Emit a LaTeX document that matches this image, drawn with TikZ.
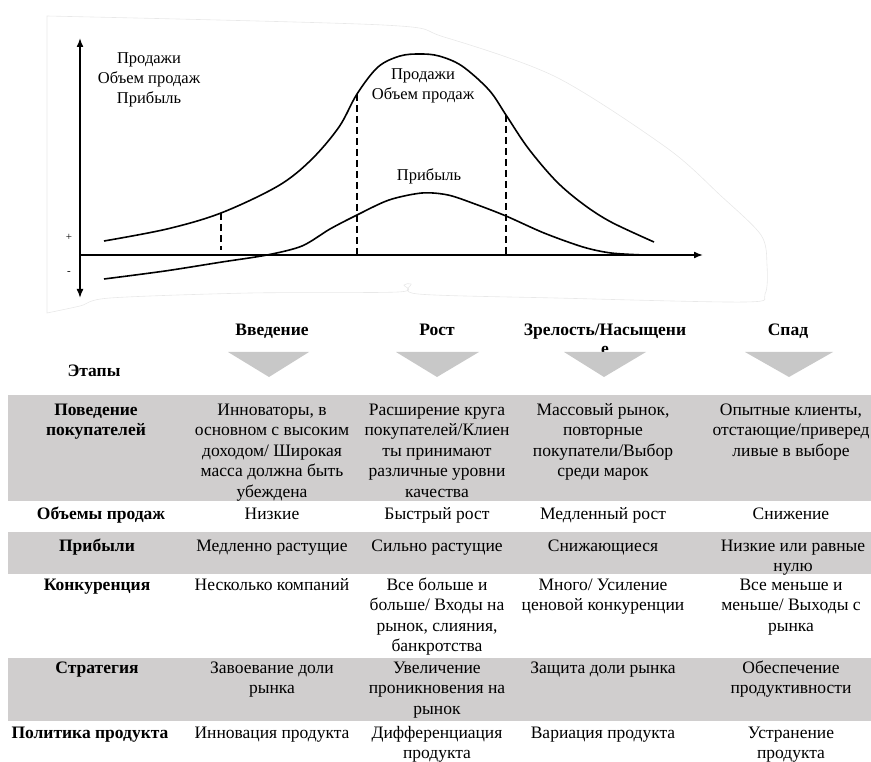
\documentclass[tikz,border=0pt]{standalone}
\usepackage{fontspec}
\setmainfont{Liberation Serif}
\usetikzlibrary{arrows.meta}
\definecolor{bandgray}{RGB}{208,206,206}
\definecolor{trigray}{RGB}{200,200,200}
\begin{document}
\begin{tikzpicture}
  [x=1pt, y=-1pt,
   txt/.style={font=\fontsize{17.5}{20.5}\selectfont, align=center, inner sep=0pt, anchor=base},
   hdr/.style={txt, font=\fontsize{17.5}{20.5}\selectfont\bfseries},
   lbl/.style={font=\fontsize{16.5}{20}\selectfont, align=center, inner sep=0pt},
   band/.style={fill=bandgray, draw=none},
   stage/.style={fill=trigray, draw=none},
   curve/.style={black, line width=1.6pt},
   axis/.style={black, line width=1.6pt, {Latex[length=9pt,width=7pt]}-{Latex[length=9pt,width=7pt]}},
   guide/.style={black, line width=1.2pt, dash pattern=on 7pt off 4pt}]

  \useasboundingbox (0,0) rectangle (871,762);

  % faint outline round the chart
  \draw[gray!18, line width=0.6pt] plot[smooth, tension=0.5] coordinates
    {(47,16) (383,25) (444,37) (556,77) (667,148) (720,195) (761,235) (767,265) (765,294) (745,302)
     (556,298) (418,294) (411,284) (404,285) (398,292) (250,293) (110,298) (80,306) (47,313)} -- cycle;

  % axes
  \coordinate (O) at (80,255);
  \coordinate (ytop) at (80,38);
  \coordinate (ybot) at (80,298);
  \coordinate (xend) at (703,255);
  \draw[axis] (ybot) -- (ytop);
  \draw[black, line width=1.6pt, -{Latex[length=9pt,width=7pt]}] (O) -- (xend);
  \node[lbl, font=\fontsize{11}{12}\selectfont] (plus) at (69,237) {+};
  \node[lbl, font=\fontsize{11}{12}\selectfont] (minus) at (69,273) {-};

  % axis labels
  \node[lbl] (ylab) at (149,80) {Продажи\\Объем продаж\\Прибыль};

  % sales curve
  \draw[curve] plot[smooth, tension=0.55] coordinates
    {(104,241) (167,229) (221,213) (278,186) (311,160) (339,127) (357,94) (378,67) (400,56)
     (420,54) (439,56) (462,66) (489,90) (506,115) (528,148) (556,181) (583,204) (611,222) (654,242)};
  \node[lbl] (sales) at (423,86) {Продажи\\Объем продаж};

  % profit curve
  \draw[curve] plot[smooth, tension=0.5] coordinates
    {(104,279) (165,271) (222,262) (267,255) (302,246) (330,229) (357,215) (389,200) (422,193)
     (448,195) (475,204) (506,216) (544,233) (583,247) (611,253) (644,255)};
  \node[lbl] (profit) at (429,176) {Прибыль};

  % stage borders
  \coordinate (s1) at (221,213);
  \coordinate (s2) at (357,94);
  \coordinate (s3) at (506,115);
  \draw[guide] (s1) -- (221,250);
  \draw[guide] (s2) -- (357,255);
  \draw[guide] (s3) -- (506,255);

  % stage names (base = last line)
  \node[hdr] (intro) at (272,336) {Введение};
  \node[hdr] (growth) at (437,336) {Рост};
  \node[hdr, font=\fontsize{17.5}{19}\selectfont\bfseries] (mature) at (605,355) {Зрелость/Насыщени\\е};
  \node[hdr] (decline) at (788,336) {Спад};
  \node[hdr] (stages) at (94,377) {Этапы};

  % arrows under the stages
  \fill[stage] (228,352) -- (309,352) -- (269,377) -- cycle;
  \fill[stage] (396,352) -- (479,352) -- (437,377) -- cycle;
  \fill[stage] (564,352) -- (646,352) -- (604,377) -- cycle;
  \fill[stage] (745,352) -- (833,352) -- (789,377) -- cycle;

  % shaded rows
  \fill[band] (8,395) rectangle (875,501);
  \fill[band] (8,532) rectangle (875,574);
  \fill[band] (8,658) rectangle (875,721);

  % row 1
  \node[hdr] (r1) at (96,435.5) {Поведение\\покупателей};
  \node[txt] (r1a) at (272,497) {Инноваторы, в\\основном с высоким\\доходом/ Широкая\\масса должна быть\\убеждена};
  \node[txt] (r1b) at (437,497) {Расширение круга\\покупателей/Клиен\\ты принимают\\различные уровни\\качества};
  \node[txt] (r1c) at (603,476.5) {Массовый рынок,\\повторные\\покупатели/Выбор\\среди марок};
  \node[txt] (r1d) at (791,456) {Опытные клиенты,\\отстающие/приверед\\ливые в выборе};

  % row 2
  \node[hdr] (r2) at (101,519) {Объемы продаж};
  \node[txt] (r2a) at (272,519) {Низкие};
  \node[txt] (r2b) at (437,519) {Быстрый рост};
  \node[txt] (r2c) at (603,519) {Медленный рост};
  \node[txt] (r2d) at (791,519) {Снижение};

  % row 3
  \node[hdr] (r3) at (97,551) {Прибыли};
  \node[txt] (r3a) at (272,551) {Медленно растущие};
  \node[txt] (r3b) at (437,551) {Сильно растущие};
  \node[txt] (r3c) at (603,551) {Снижающиеся};
  \node[txt] (r3d) at (793,571.5) {Низкие или равные\\нулю};

  % row 4
  \node[hdr] (r4) at (97,590) {Конкуренция};
  \node[txt] (r4a) at (272,590) {Несколько компаний};
  \node[txt] (r4b) at (437,651.5) {Все больше и\\больше/ Входы на\\рынок, слияния,\\банкротства};
  \node[txt] (r4c) at (603,610.5) {Много/ Усиление\\ценовой конкуренции};
  \node[txt] (r4d) at (791,631) {Все меньше и\\меньше/ Выходы с\\рынка};

  % row 5
  \node[hdr] (r5) at (97,673) {Стратегия};
  \node[txt] (r5a) at (272,693.5) {Завоевание доли\\рынка};
  \node[txt] (r5b) at (437,714) {Увеличение\\проникновения на\\рынок};
  \node[txt] (r5c) at (603,673) {Защита доли рынка};
  \node[txt] (r5d) at (791,693.5) {Обеспечение\\продуктивности};

  % row 6
  \node[hdr] (r6) at (90,738) {Политика продукта};
  \node[txt] (r6a) at (272,738) {Инновация продукта};
  \node[txt] (r6b) at (437,758.5) {Дифференциация\\продукта};
  \node[txt] (r6c) at (603,738) {Вариация продукта};
  \node[txt] (r6d) at (791,758.5) {Устранение\\продукта};
\end{tikzpicture}
\end{document}
